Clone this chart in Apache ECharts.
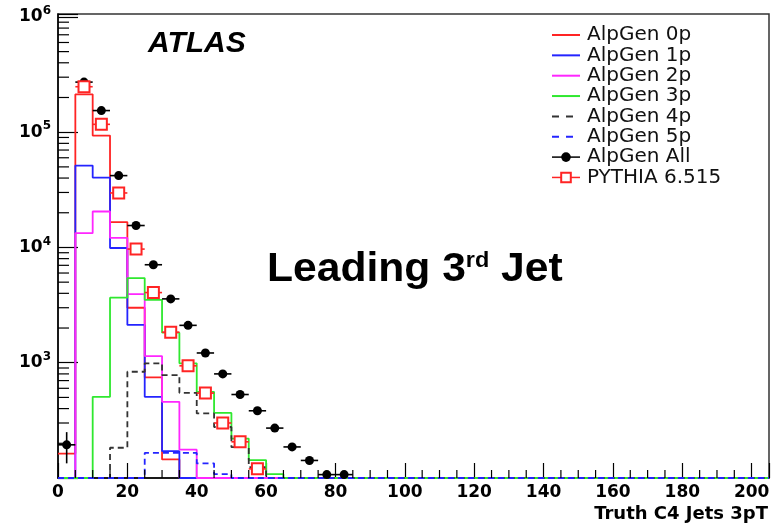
<!DOCTYPE html>
<html><head><meta charset="utf-8">
<script src="https://cdn.jsdelivr.net/npm/echarts@6/dist/echarts.min.js"></script>
<style>html,body{margin:0;padding:0;background:#fff}#c{width:776px;height:527px}</style>
</head><body><div id="c"></div>
<script>
// ---- data (bins of 5 GeV, lower edges) ----
const binLow = [0,5,10,15,20,25,30,35,40,45,50,55,60,65,70,75,80];
const binWidth = 5;
const xMax = 205;
const yMin = 100, yMax = 1.06e6;
const alpgen0p = [163,213000,93500,16600,3000,745,145,0,0,0,0,0,0,0,0,0,0];
const alpgen1p = [0,51300,40400,9890,2130,506,171,0,0,0,0,0,0,0,0,0,0];
const alpgen2p = [0,13300,20500,12100,3940,1143,458,176,0,0,0,0,0,0,0,0,0];
const alpgen3p = [0,0,506,3670,5420,3510,1823,988,559,367,220,143,108,0,0,0,0];
const alpgen4p = [0,0,0,183,835,988,781,548,363,277,185,124,0,0,0,0,0];
const alpgen5p = [0,0,0,0,0,165,165,165,134,108,0,0,0,0,0,0,0];
const alpgenAll = [194,272000,154000,42000,15500,7080,3580,2110,1215,800,530,383,271,186,142,107,107];
const pythia = [0,248000,117000,29700,9680,4060,1840,940,545,300,206,120,0,0,0,0,0];
const allErrV = [[2.5,134,250]];
const xLabels = [0,20,40,60,80,100,120,140,160,180,200];
const xMinorTicks = [5,10,15,25,30,35,45,50,55,65,70,75,85,90,95,105,110,115,125,130,135,145,150,155,165,170,175,185,190,195];
const yMinorTicks = [200,300,400,500,600,700,800,900,2000,3000,4000,5000,6000,7000,8000,9000,
  20000,30000,40000,50000,60000,70000,80000,90000,200000,300000,400000,500000,600000,700000,800000,900000];

const RED='#ff2424', BLUE='#2424ff', MAG='#ff26ff', GREEN='#2fe82f', GREY='#333333';

function histPts(vals){
  const pts = [];
  for (let i=0;i<vals.length;i++) pts.push([binLow[i], vals[i]>0 ? vals[i] : yMin]);
  pts.push([binLow[binLow.length-1]+binWidth, yMin]);
  pts.push([xMax, yMin]);
  return pts;
}
function markerPts(vals){
  const pts=[];
  for (let i=0;i<vals.length;i++) if (vals[i]>0) pts.push([binLow[i]+binWidth/2, vals[i]]);
  return pts;
}
function hbarData(vals){
  const d=[];
  for (let i=0;i<vals.length;i++) if (vals[i]>0) d.push([binLow[i], binLow[i]+binWidth, vals[i]]);
  return d;
}
function hist(name, vals, color, dashed){
  return {type:'line', name, data:histPts(vals), step:'end', symbol:'none',
    lineStyle:{color, width:1.8, type: dashed ? [6,4] : 'solid'}, itemStyle:{color},
    animation:false, z:3};
}
function hbar(vals, color){
  return {type:'custom', data:hbarData(vals), encode:{x:[0,1], y:2}, silent:true, z:4,
    renderItem:(p, api)=>{
      const a = api.coord([api.value(0), api.value(2)]);
      const b = api.coord([api.value(1), api.value(2)]);
      return {type:'line', shape:{x1:a[0],y1:a[1],x2:b[0],y2:b[1]}, style:{stroke:color, lineWidth:1.6}};
    }};
}

const chart = echarts.init(document.getElementById('c'));
const sup = {fontSize:12, fontWeight:'bold', fontFamily:'DejaVu Sans', color:'#000', verticalAlign:'top', lineHeight:12};
chart.setOption({
  animation:false,
  backgroundColor:'#fff',
  grid:{left:58, right:7, top:14, bottom:49, show:true, borderColor:'#333', borderWidth:1.5},
  xAxis:{type:'value', min:0, max:xMax, interval:20,
    axisLine:{show:true, onZero:false, lineStyle:{color:'#000', width:1.5}},
    axisTick:{inside:true, length:15, lineStyle:{color:'#000', width:1.2}},
    splitLine:{show:false},
    axisLabel:{formatter:v=> xLabels.indexOf(v)>=0 ? String(v) : '', color:'#000', fontFamily:'DejaVu Sans', fontWeight:'bold', fontSize:17, margin:6},
    name:'Truth C4 Jets 3pT', nameLocation:'end', nameGap:-1,
    nameTextStyle:{color:'#000', fontFamily:'DejaVu Sans', fontWeight:'bold', fontSize:18, align:'right', verticalAlign:'top', padding:[27,0,0,0]}
  },
  yAxis:{type:'log', logBase:10, min:yMin, max:yMax,
    axisLine:{show:true, lineStyle:{color:'#000', width:1.5}},
    axisTick:{inside:true, length:20, lineStyle:{color:'#000', width:1.2}},
    splitLine:{show:false},
    axisLabel:{margin:7, formatter:v=>{
        const e = Math.log10(v), r = Math.round(e);
        if (Math.abs(e-r)>0.01 || r<=2) return '';
        return '{b|10}{s|'+r+'}';
      },
      rich:{b:{fontSize:17, fontWeight:'bold', fontFamily:'DejaVu Sans', color:'#000', lineHeight:24}, s:sup}
    }
  },
  legend:{orient:'vertical', left:551, top:25, padding:0, itemWidth:28, itemHeight:12, itemGap:0.35, selectedMode:false,
    textStyle:{fontFamily:'DejaVu Sans', fontSize:20, lineHeight:20, color:'#111', padding:[0,0,0,2]},
    data:[
      {name:'AlpGen 0p', itemStyle:{opacity:0}},
      {name:'AlpGen 1p', itemStyle:{opacity:0}},
      {name:'AlpGen 2p', itemStyle:{opacity:0}},
      {name:'AlpGen 3p', itemStyle:{opacity:0}},
      {name:'AlpGen 4p', itemStyle:{opacity:0}, lineStyle:{type:[7,7]}},
      {name:'AlpGen 5p', itemStyle:{opacity:0}, lineStyle:{type:[7,7]}},
      {name:'AlpGen All', lineStyle:{opacity:1, width:1.5, color:'#000', type:'solid'}},
      {name:'PYTHIA 6.515', lineStyle:{opacity:1, width:1.5, color:RED, type:'solid'}}
    ]},
  graphic:[
    {type:'text', x:148, y:44, style:{text:'ATLAS', font:'italic bold 30px "Liberation Sans"', fill:'#000', verticalAlign:'middle'}},
    {type:'text', x:267, y:270, scaleX:1.065, style:{text:'{m|Leading 3}{s|rd}{m| Jet}', verticalAlign:'middle', fill:'#000',
      rich:{m:{fontSize:40, fontWeight:'bold', fontFamily:'Liberation Sans', fill:'#000'},
            s:{fontSize:22, fontWeight:'bold', fontFamily:'Liberation Sans', fill:'#000', verticalAlign:'top'}}}}
  ],
  series:[
    // minor ticks
    {type:'custom', data:yMinorTicks.map(v=>[0,v]), encode:{x:0,y:1}, silent:true, z:5,
      renderItem:(p,api)=>{const c=api.coord([0, api.value(1)]);
        return {type:'line', shape:{x1:c[0],y1:c[1],x2:c[0]+11,y2:c[1]}, style:{stroke:'#000', lineWidth:1.2}};}},
    {type:'custom', data:xMinorTicks.map(v=>[v,yMin]), encode:{x:0,y:1}, silent:true, z:5,
      renderItem:(p,api)=>{const c=api.coord([api.value(0), yMin]);
        return {type:'line', shape:{x1:c[0],y1:c[1],x2:c[0],y2:c[1]-8}, style:{stroke:'#000', lineWidth:1.2}};}},
    hist('AlpGen 0p', alpgen0p, RED, false),
    hist('AlpGen 1p', alpgen1p, BLUE, false),
    hist('AlpGen 2p', alpgen2p, MAG, false),
    hist('AlpGen 3p', alpgen3p, GREEN, false),
    hist('AlpGen 4p', alpgen4p, GREY, true),
    hist('AlpGen 5p', alpgen5p, BLUE, true),
    hbar(alpgenAll, '#000'),
    {type:'custom', data:allErrV, encode:{x:0, y:[1,2]}, silent:true, z:4,
      renderItem:(p,api)=>{const a=api.coord([api.value(0), api.value(1)]), b=api.coord([api.value(0), api.value(2)]);
        return {type:'line', shape:{x1:a[0],y1:a[1],x2:b[0],y2:b[1]}, style:{stroke:'#000', lineWidth:1.6}};}},
    hbar(pythia, RED),
    {type:'line', name:'AlpGen All', data:markerPts(alpgenAll), symbol:'circle', symbolSize:9, showAllSymbol:true,
      itemStyle:{color:'#000'}, lineStyle:{opacity:0, color:'#000'}, z:6},
    {type:'line', name:'PYTHIA 6.515', data:markerPts(pythia), symbol:'rect', symbolSize:11, showAllSymbol:true,
      itemStyle:{color:'#fff', borderColor:RED, borderWidth:2}, lineStyle:{opacity:0, color:RED}, z:6}
  ]
});
</script>
</body></html>
